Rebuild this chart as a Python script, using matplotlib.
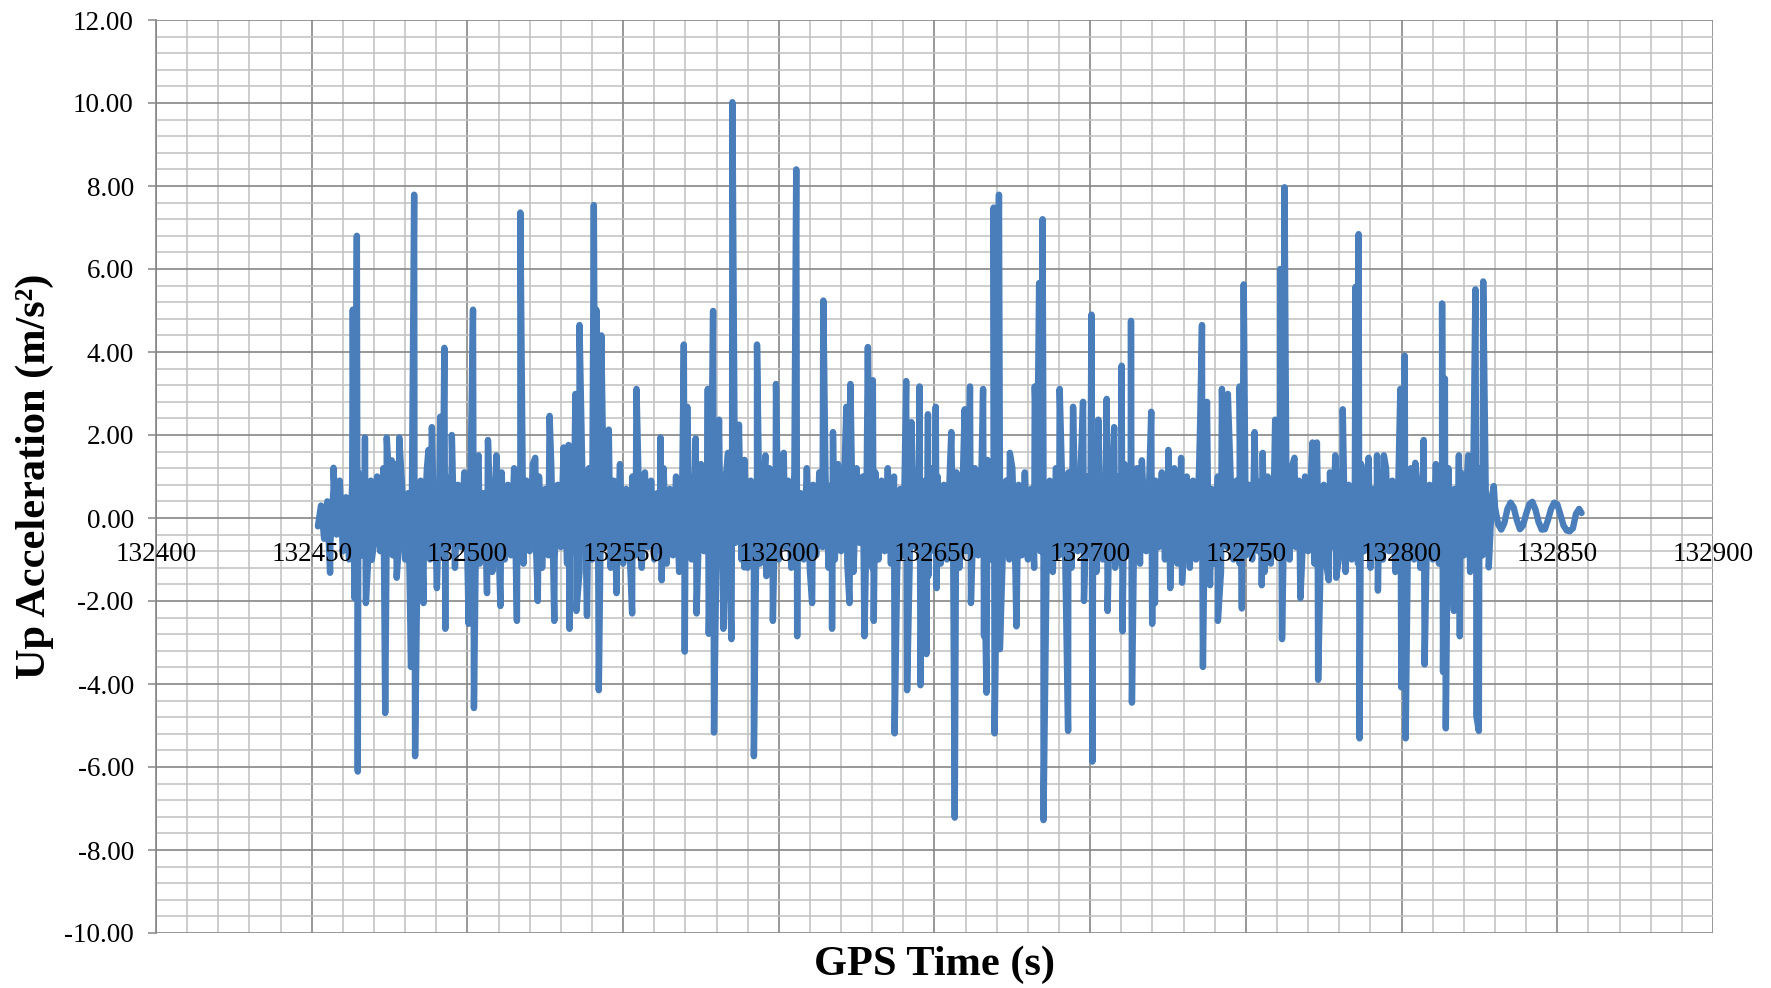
import numpy as np
import matplotlib
matplotlib.use("Agg")
import matplotlib.pyplot as plt
from matplotlib.ticker import MultipleLocator, FormatStrFormatter, FuncFormatter

# ---------------- data ----------------
base_start = 132452  # first second of the 1 Hz background band
base_vals = [
    -0.2, 0.3, -0.5, 0.4, -0.6, 0.7, -0.4, 0.9, -0.8, 0.5, -1.0, 0.8, -0.7, 1.1, -0.9, 0.6, -1.2, 0.9, -0.6, 1.0,
    -0.8, 1.2, -1.1, 0.7, -0.9, 1.3, -0.6, 0.8, -1.0, 0.6, -1.3, 1.1, -0.7, 0.9, -0.5, 1.2, -1.0, 0.8, -1.1, 0.7,
    -0.9, 1.0, -0.6, 1.3, -1.2, 0.8, -0.7, 1.1, -1.0, 0.9, -0.8, 1.2, -1.1, 0.6, -0.9, 1.0, -1.3, 0.7, -0.6, 1.1,
    -1.0, 0.8, -0.9, 1.2, -0.7, 0.6, -1.1, 0.9, -0.8, 1.3, -0.6, 1.0, -1.2, 0.7, -0.9, 1.1, -1.0, 0.8, -0.7, 1.2,
    -1.1, 0.9, -0.8, 1.0, -1.3, 0.7, -0.6, 1.2, -1.0, 0.8, -0.9, 1.1, -0.7, 0.6, -1.2, 0.9, -0.8, 1.3, -1.1, 0.7,
    -0.6, 1.0, -0.9, 0.8, -1.2, 1.1, -0.7, 0.9, -1.0, 0.6, -0.8, 1.2, -1.1, 0.7, -0.9, 1.0, -1.3, 0.8, -0.6, 1.1,
    -1.0, 0.7, -1.2, 1.3, -0.8, 0.9, -1.1, 0.6, -0.7, 1.2, -1.3, 1.0, -0.9, 0.8, -0.6, 1.1, -1.0, 1.4, -1.2, 0.9,
    -0.8, 1.0, -1.1, 0.7, -1.4, 1.2, -0.9, 0.8, -1.0, 1.3, -0.7, 0.9, -1.2, 1.1, -0.8, 0.6, -1.0, 1.2, -1.3, 0.8,
    -0.9, 1.1, -0.7, 1.0, -1.2, 0.8, -1.0, 1.3, -0.8, 0.9, -1.1, 0.7, -1.3, 1.2, -0.6, 1.0, -0.9, 0.8, -1.2, 1.1,
    -1.0, 0.9, -0.8, 1.2, -1.1, 1.0, -1.3, 0.7, -0.9, 1.1, -1.2, 0.8, -0.7, 1.3, -1.0, 0.9, -1.4, 1.2, -0.8, 1.0,
    -1.1, 0.8, -1.0, 1.3, -0.9, 1.1, -1.2, 0.7, -0.8, 1.0, -1.3, 1.2, -0.9, 0.8, -1.1, 1.4, -1.0, 0.9, -1.2, 1.1,
    -0.7, 0.9, -1.0, 1.2, -1.3, 0.8, -0.9, 1.1, -1.0, 0.7, -1.2, 1.3, -0.8, 1.0, -1.1, 0.9, -1.3, 1.2, -0.9, 0.8,
    -1.0, 1.1, -1.2, 0.9, -0.8, 1.3, -1.1, 1.0, -0.9, 1.2, -1.3, 0.8, -1.0, 1.1, -0.7, 0.9, -1.2, 1.0, -1.1, 1.3,
    -0.9, 0.8, -1.0, 1.2, -1.1, 0.7, -0.8, 1.0, -1.2, 0.9, -0.7, 1.1, -1.0, 0.8, -0.9, 1.2, -1.1, 0.7, -0.8, 1.0,
    -1.2, 0.9, -1.0, 1.3, -0.8, 1.1, -0.9, 0.7, -1.1, 1.0, -1.3, 0.8, -0.7, 1.2, -1.0, 0.9, -1.1, 1.3, -0.9, 0.8,
    -1.0, 1.2, -0.8, 0.9, -1.3, 1.0, -1.1, 0.7, -0.9, 1.1, -1.2, 0.8, -1.0, 1.3, -0.7, 0.9, -1.1, 1.0, -0.8, 1.2,
    -1.1, 0.9, -1.0, 0.8, -1.2, 1.1, -0.7, 1.0, -0.9, 1.2, -1.3, 0.8, -1.0, 0.9, -1.1, 1.3, -0.8, 1.0, -1.2, 0.7,
    -0.9, 1.1, -1.0, 1.2, -0.8, 0.9, -1.3, 1.0, -1.1, 0.8, -0.7, 1.2, -1.0, 0.9, -1.2, 1.1, -0.9, 0.8, -1.0, 1.3,
    -1.1, 0.9, -0.8, 1.2, -1.0, 0.7, -1.2, 1.1, -0.9, 1.0, -1.3, 0.8, -1.0, 1.2, -0.9, 0.7, -0.6, 0.5,
]

spike_t = [
    132455.9, 132457.0, 132463.2, 132463.7, 132464.5, 132464.8, 132467.1, 132467.4, 132469.3, 132473.6,
    132474.1, 132475.7, 132477.3, 132478.1, 132481.9, 132482.9, 132483.2, 132485.9, 132487.5, 132488.6,
    132490.2, 132491.3, 132492.6, 132492.9, 132495.0, 132500.4, 132501.8, 132502.1, 132503.6, 132506.3,
    132506.6, 132509.3, 132510.6, 132515.9, 132517.0, 132521.8, 132522.6, 132526.4, 132527.9, 132530.9,
    132532.5, 132532.8, 132534.7, 132535.0, 132536.0, 132538.4, 132540.6, 132541.4, 132542.2, 132543.0,
    132545.4, 132547.9, 132552.9, 132554.3, 132562.0, 132562.4, 132569.5, 132569.8, 132570.6, 132573.3,
    132573.6, 132577.2, 132577.5, 132578.9, 132579.2, 132580.8, 132582.2, 132583.7, 132584.8, 132585.1,
    132587.2, 132588.4, 132588.9, 132592.0, 132593.0, 132595.7, 132598.1, 132599.1, 132601.6, 132605.6,
    132605.9, 132610.7, 132614.3, 132617.1, 132617.4, 132621.7, 132622.7, 132623.0, 132627.5, 132628.6,
    132630.2, 132630.5, 132637.2, 132640.9, 132641.2, 132642.6, 132645.2, 132645.5, 132647.4, 132647.9,
    132650.4, 132650.7, 132655.4, 132656.5, 132659.7, 132661.4, 132661.7, 132665.6, 132665.9, 132666.7,
    132669.0, 132669.3, 132670.7, 132671.0, 132674.2, 132676.3, 132682.2, 132683.6, 132684.7, 132685.0,
    132690.2, 132692.9, 132694.5, 132697.7, 132698.0, 132700.4, 132700.7, 132702.6, 132705.3, 132705.6,
    132707.7, 132710.1, 132710.4, 132713.1, 132713.4, 132716.6, 132719.6, 132719.9, 132720.8, 132725.1,
    132725.7, 132729.2, 132729.5, 132735.3, 132735.9, 132736.2, 132737.5, 132738.5, 132741.0, 132742.3,
    132744.2, 132748.0, 132748.7, 132749.3, 132752.8, 132755.1, 132755.4, 132759.4, 132761.0, 132761.6,
    132762.4, 132765.6, 132767.5, 132771.4, 132772.8, 132773.2, 132776.6, 132778.7, 132779.0, 132781.1,
    132785.2, 132786.2, 132786.5, 132789.4, 132792.1, 132792.4, 132794.3, 132799.6, 132799.9, 132801.0,
    132801.3, 132804.4, 132807.1, 132807.4, 132813.0, 132813.3, 132813.9, 132814.2, 132816.8, 132818.4,
    132818.7, 132821.4, 132823.7, 132824.0, 132824.8, 132826.2, 132828.0, 132829.6,
]
spike_v = [
    -1.32, 1.21, 5.02, -1.93, 6.80, -6.11, 1.94, -2.05, -1.01, -4.70,
    1.94, 1.39, -1.44, 1.94, -3.59, 7.79, -5.74, -2.05, 1.64, 2.19,
    -1.69, 2.44, 4.10, -2.67, 2.00, -2.55, 5.02, -4.58, 1.51, -1.81,
    1.88, 1.51, -2.12, -2.48, 7.36, 1.45, -2.00, 2.46, -2.48, 1.70,
    1.76, -2.67, 2.99, -2.24, 4.65, -2.36, 7.54, 5.02, -4.15, 4.40,
    2.13, -1.81, -2.30, 3.11, 1.94, -1.50, 4.18, -3.22, 2.68, 1.92,
    -2.30, 3.11, -2.79, 4.99, -5.17, 2.37, -2.67, 1.57, -2.92, 10.02,
    2.25, 1.33, -1.19, -5.74, 4.18, 1.51, -2.48, 3.23, 1.57, 8.40,
    -2.85, -2.05, 5.24, -2.67, 2.07, 2.68, -2.05, 3.23, -2.85, 4.12,
    3.32, -2.48, -5.19, 3.30, -4.15, 2.31, 3.17, -4.03, -3.28, 2.50,
    2.68, -1.69, 2.07, -7.22, 2.62, 3.17, -2.05, 3.11, -2.85, -4.21,
    7.48, -5.19, 7.79, -3.16, 1.57, -2.61, 3.17, 5.66, 7.20, -7.28,
    3.11, -5.13, 2.68, 2.80, -2.00, 4.90, -5.87, 2.37, 2.87, -2.24,
    2.19, 3.67, -2.73, 4.75, -4.45, 1.39, 2.56, -2.55, -2.05, 1.64,
    -1.69, 1.45, -1.56, 2.25, 4.65, -3.59, 2.80, -1.62, -2.48, 3.11,
    2.99, 3.17, -2.18, 5.63, 2.07, -1.62, 1.57, 2.37, 6.00, -2.92,
    7.97, 1.45, -1.93, 1.82, 1.82, -3.90, -1.50, 1.51, -1.44, 2.62,
    5.57, 6.84, -5.31, 1.45, 1.51, -1.75, 1.51, 3.11, -4.08, 3.91,
    -5.31, 1.33, 1.88, -3.53, 5.17, -3.71, 3.36, -5.07, -2.24, 1.51,
    -2.85, 1.51, 5.51, -4.76, -5.13, 5.70, -1.19, 0.77,
]

tail_t = [132830.0, 132831.0, 132832.0, 132833.0, 132834.0, 132835.0, 132836.0, 132837.0, 132838.0,
          132839.0, 132840.0, 132841.0, 132842.0, 132843.0, 132844.0, 132845.0, 132846.0, 132847.0,
          132848.0, 132849.0, 132850.0, 132851.0, 132852.0, 132853.0, 132854.0, 132855.0, 132856.0,
          132857.0, 132857.8]
tail_v = [0.25, -0.15, -0.28, -0.12, 0.22, 0.37, 0.25, -0.05, -0.27,
          -0.18, 0.10, 0.33, 0.39, 0.20, -0.10, -0.28, -0.27, -0.05,
          0.22, 0.37, 0.33, 0.08, -0.18, -0.30, -0.32, -0.25, 0.10,
          0.22, 0.12]

x_ticks = [132400, 132450, 132500, 132550, 132600, 132650, 132700, 132750, 132800, 132850, 132900]
y_ticks = [-10, -8, -6, -4, -2, 0, 2, 4, 6, 8, 10, 12]

# combine the series in time order
base_t = base_start + np.arange(len(base_vals))
t_all = np.concatenate([base_t, np.array(spike_t), np.array(tail_t)])
v_all = np.concatenate([np.array(base_vals), np.array(spike_v), np.array(tail_v)])
order = np.argsort(t_all, kind="stable")
t_all = t_all[order]
v_all = v_all[order]

# ---------------- figure ----------------
serif = ["Liberation Serif", "DejaVu Serif"]
plt.rcParams["font.family"] = serif

W, H = 1771, 988
fig = plt.figure(figsize=(W / 100, H / 100), dpi=100, facecolor="white")
pos = [156 / W, 1 - 933 / H, (1713 - 156) / W, (933 - 20) / H]
ax = fig.add_axes(pos)

major_c = "#868686"
minor_c = "#c0c0c0"

ax.plot(t_all, v_all, color="#4A7EBB", lw=4.6, solid_joinstyle="round",
        solid_capstyle="round", zorder=3)

ax.set_xlim(x_ticks[0], x_ticks[-1])
ax.set_ylim(y_ticks[0], y_ticks[-1])
ax.set_xticks(x_ticks)
ax.set_yticks(y_ticks)
ax.xaxis.set_minor_locator(MultipleLocator(10))
ax.yaxis.set_minor_locator(MultipleLocator(0.4))
ax.set_axisbelow(True)
ax.grid(which="minor", color=minor_c, lw=1.1)
ax.grid(which="major", color=major_c, lw=1.2)

ax.yaxis.set_major_formatter(FormatStrFormatter("%.2f"))
ax.tick_params(axis="y", which="major", direction="out", length=6, width=1.1,
               color=major_c, labelsize=19.5, pad=10)
ax.tick_params(axis="y", which="minor", length=0)
ax.tick_params(axis="x", which="both", length=0, labelbottom=False)

for s in ["top", "right", "bottom"]:
    ax.spines[s].set_visible(False)
ax.spines["left"].set_color(major_c)
ax.spines["left"].set_linewidth(1.2)

# overlay axes for x tick labels (drawn above the data, on the y = 0 axis)
ax2 = fig.add_axes(pos, frameon=False, zorder=5)
ax2.patch.set_visible(False)
ax2.set_xlim(ax.get_xlim())
ax2.set_ylim(ax.get_ylim())
ax2.set_xticks(x_ticks)
ax2.xaxis.set_major_formatter(FuncFormatter(lambda v, p: f"{int(round(v))}"))
ax2.set_yticks([])
ax2.spines["bottom"].set_position(("data", 0))
for s in ["top", "right", "left", "bottom"]:
    ax2.spines[s].set_visible(False)
ax2.tick_params(axis="x", length=0, labelsize=19.5, pad=17)

fig.text(35 / W, 1 - 476 / H, "Up Acceleration (m/s²)", rotation=90,
         ha="center", va="center", fontsize=30.5, fontweight="bold")
fig.text((156 + 1713) / 2 / W, 1 - 965 / H, "GPS Time (s)",
         ha="center", va="center", fontsize=30.5, fontweight="bold")

fig.savefig("out.png", dpi=100, facecolor="white")
